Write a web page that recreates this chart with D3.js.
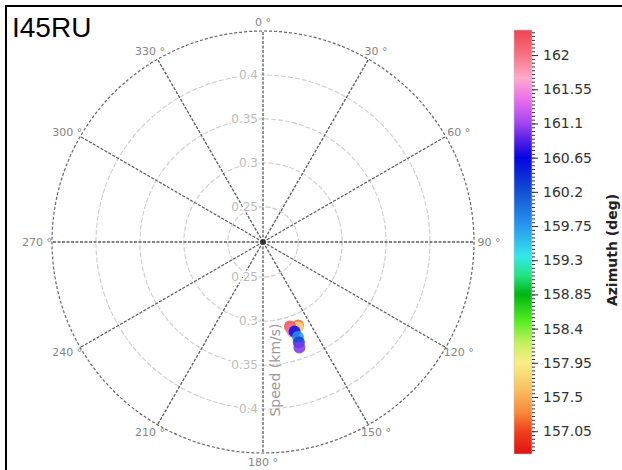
<!DOCTYPE html>
<html>
<head>
<meta charset="utf-8">
<script src="https://cdn.jsdelivr.net/npm/d3@7"></script>
<style>
  html, body { margin: 0; padding: 0; background: #fff; }
  svg { display: block; }
</style>
</head>
<body>
<svg id="chart" width="622" height="470"></svg>
<script>
// Station and measurements: back-azimuth (deg) and apparent speed (km/s)
const stationName = "I45RU";
const azimuthDeg = [157.2, 157.8, 162.3, 162.0, 161.5, 160.6, 159.8, 160.3, 161.0];
const speedKms   = [0.313, 0.315, 0.311, 0.314, 0.318, 0.318, 0.325, 0.331, 0.337];

// Axis ticks
const angleTicks = [0, 30, 60, 90, 120, 150, 180, 210, 240, 270, 300, 330];
const speedTicks = [0.25, 0.3, 0.35, 0.4];
const colorTicks = [157.05, 157.5, 157.95, 158.4, 158.85, 159.3, 159.75, 160.2, 160.65, 161.1, 161.55, 162];

// Colormap stops (azimuth value -> colour)
const cmapValues = [156.75, 157.05, 157.3, 157.6, 157.95, 158.2, 158.5, 158.85, 159.1, 159.35, 159.75, 160.2, 160.65, 160.9, 161.1, 161.4, 161.7, 162.0, 162.33];
const cmapColors = ["#e01212", "#f0401c", "#f88a3a", "#f8c060", "#f8ee88", "#c8f060", "#54ee22", "#00b414", "#22e482", "#34e8ea", "#2898f0", "#1250d2", "#0404e0", "#5c22e8", "#a244f0", "#e86cf0", "#ffaacc", "#f87282", "#f04452"];

const svg = d3.select("#chart");
const cx = 263, cy = 242, R = 211;

const rScale = d3.scaleLinear().domain([0.21, 0.45]).range([0, R]);
const aScale = d3.scaleLinear().domain([0, 360]).range([0, 2 * Math.PI]);
const color = d3.scaleLinear().domain(cmapValues).range(cmapColors).clamp(true);

// Frame lines
svg.append("line").attr("x1", 5).attr("y1", 6).attr("x2", 622).attr("y2", 6)
  .attr("stroke", "#000").attr("stroke-width", 2);
svg.append("line").attr("x1", 6).attr("y1", 5).attr("x2", 6).attr("y2", 470)
  .attr("stroke", "#000").attr("stroke-width", 2);

// Title
svg.append("text").attr("x", 12).attr("y", 37)
  .attr("font-family", "Liberation Sans, Arial, sans-serif")
  .attr("font-size", 28).attr("fill", "#000").text(stationName);

const polar = svg.append("g").attr("transform", `translate(${cx},${cy})`);

// Speed rings
polar.selectAll("circle.ring").data(speedTicks).join("circle")
  .attr("class", "ring")
  .attr("r", d => rScale(d))
  .attr("fill", "none").attr("stroke", "#cdcdcd").attr("stroke-width", 1.1)
  .attr("stroke-dasharray", "5,2");

// Outer boundary
polar.append("circle").attr("r", R)
  .attr("fill", "none").attr("stroke", "#666").attr("stroke-width", 1.2)
  .attr("stroke-dasharray", "3,2");

// Azimuth spokes
polar.selectAll("line.spoke").data(angleTicks).join("line")
  .attr("class", "spoke")
  .attr("x1", 0).attr("y1", 0)
  .attr("x2", d => d3.pointRadial(aScale(d), R)[0])
  .attr("y2", d => d3.pointRadial(aScale(d), R)[1])
  .attr("stroke", "#5a5a5a").attr("stroke-width", 1.3)
  .attr("stroke-dasharray", "3,1.5");

polar.append("circle").attr("r", 2.8).attr("fill", "#333");

// Angle labels
polar.selectAll("text.alabel").data(angleTicks).join("text")
  .attr("class", "alabel")
  .attr("x", d => Math.sin(aScale(d)) * (R + 15))
  .attr("y", d => -Math.cos(aScale(d)) * (R + 9))
  .attr("dy", "0.35em")
  .attr("text-anchor", "middle")
  .attr("font-family", "DejaVu Sans, sans-serif")
  .attr("font-size", 11).attr("fill", "#858585")
  .text(d => `${d} °`);

// Speed labels along the north and south axes
[-1, 1].forEach(dir => {
  polar.selectAll(`text.rlabel${dir}`).data(speedTicks).join("text")
    .attr("x", -5)
    .attr("y", d => dir * rScale(d))
    .attr("dy", "0.35em")
    .attr("text-anchor", "end")
    .attr("font-family", "DejaVu Sans, sans-serif")
    .attr("font-size", 12).attr("fill", "#bbbbbb")
    .attr("stroke", "#fff").attr("stroke-width", 3).attr("paint-order", "stroke")
    .text(d => d);
});

// Speed axis title
svg.append("text")
  .attr("transform", `translate(280,370) rotate(-90)`)
  .attr("text-anchor", "middle")
  .attr("font-family", "DejaVu Sans, sans-serif")
  .attr("font-size", 14).attr("fill", "#999")
  .text("Speed (km/s)");

// Measurements
const pts = azimuthDeg.map((a, i) => ({ az: a, v: speedKms[i] }));
polar.selectAll("circle.pt").data(pts).join("circle")
  .attr("class", "pt")
  .attr("cx", d => d3.pointRadial(aScale(d.az), rScale(d.v))[0])
  .attr("cy", d => d3.pointRadial(aScale(d.az), rScale(d.v))[1])
  .attr("r", 6)
  .attr("fill", d => color(d.az))
  .attr("fill-opacity", 0.85);

// Colour bar
const cbX = 514, cbW = 18, cbTop = 30, cbBot = 454;
const cbScale = d3.scaleLinear().domain([156.75, 162.33]).range([cbBot, cbTop]);

const defs = svg.append("defs");
const grad = defs.append("linearGradient").attr("id", "cbar")
  .attr("x1", 0).attr("y1", 1).attr("x2", 0).attr("y2", 0);
grad.selectAll("stop").data(cmapValues).join("stop")
  .attr("offset", d => (d - 156.75) / (162.33 - 156.75))
  .attr("stop-color", d => color(d));

svg.append("rect").attr("x", cbX).attr("y", cbTop)
  .attr("width", cbW).attr("height", cbBot - cbTop)
  .attr("fill", "url(#cbar)")
  .attr("stroke", "#c8c8c8").attr("stroke-width", 0.6);

// Minor ticks
const minorTicks = d3.range(3136, 3247).map(i => +(i * 0.05).toFixed(2));
svg.append("g").attr("transform", `translate(${cbX + cbW},0)`)
  .call(d3.axisRight(cbScale).tickValues(minorTicks).tickSize(3).tickFormat(""))
  .call(g => g.select(".domain").remove())
  .call(g => g.selectAll("line").attr("stroke", "#333"));

// Major ticks
svg.append("g").attr("transform", `translate(${cbX + cbW},0)`)
  .call(d3.axisRight(cbScale).tickValues(colorTicks).tickSize(6).tickPadding(5).tickFormat(d => String(d)))
  .call(g => g.select(".domain").remove())
  .call(g => g.selectAll("line").attr("stroke", "#333"))
  .call(g => g.selectAll("text")
    .attr("font-family", "DejaVu Sans, sans-serif")
    .attr("font-size", 14).attr("fill", "#333"));

svg.append("text")
  .attr("transform", `translate(617,250) rotate(-90)`)
  .attr("text-anchor", "middle")
  .attr("font-family", "DejaVu Sans, sans-serif")
  .attr("font-weight", "bold")
  .attr("font-size", 14).attr("fill", "#222")
  .text("Azimuth (deg)");
</script>
</body>
</html>
